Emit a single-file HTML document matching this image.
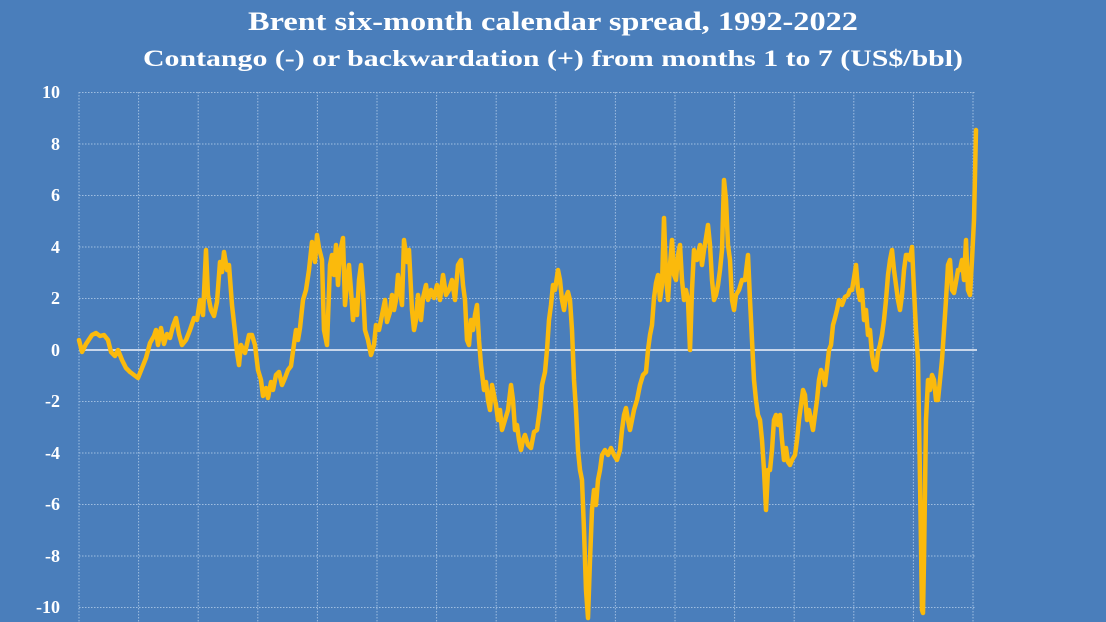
<!DOCTYPE html>
<html><head><meta charset="utf-8"><style>
html,body{margin:0;padding:0;background:#4a7ebb;}
svg{display:block;}
</style></head><body>
<svg width="1106" height="622" viewBox="0 0 1106 622" xmlns="http://www.w3.org/2000/svg">
<rect width="1106" height="622" fill="#4a7ebb"/>
<g font-family="'Liberation Serif',serif" font-weight="bold" fill="#ffffff" text-anchor="middle">
<text x="553" y="30" font-size="26" textLength="610" lengthAdjust="spacingAndGlyphs">Brent six-month calendar spread, 1992-2022</text>
<text x="553" y="66" font-size="23" textLength="820" lengthAdjust="spacingAndGlyphs">Contango (-) or backwardation (+) from months 1 to 7 (US$/bbl)</text>
</g>
<g stroke="#9fbde0" stroke-width="1" stroke-dasharray="1.5,1.5" fill="none">
<line x1="79" y1="92.5" x2="975" y2="92.5"/><line x1="79" y1="144" x2="975" y2="144"/>
<line x1="79" y1="195.5" x2="975" y2="195.5"/><line x1="79" y1="247" x2="975" y2="247"/>
<line x1="79" y1="298.5" x2="975" y2="298.5"/><line x1="79" y1="401.5" x2="975" y2="401.5"/>
<line x1="79" y1="453" x2="975" y2="453"/><line x1="79" y1="504.5" x2="975" y2="504.5"/>
<line x1="79" y1="556" x2="975" y2="556"/><line x1="79" y1="607.5" x2="975" y2="607.5"/>
<line x1="79" y1="92" x2="79" y2="622"/><line x1="138.6" y1="92" x2="138.6" y2="622"/>
<line x1="198.2" y1="92" x2="198.2" y2="622"/><line x1="257.8" y1="92" x2="257.8" y2="622"/>
<line x1="317.4" y1="92" x2="317.4" y2="622"/><line x1="377" y1="92" x2="377" y2="622"/>
<line x1="436.6" y1="92" x2="436.6" y2="622"/><line x1="496.2" y1="92" x2="496.2" y2="622"/>
<line x1="555.8" y1="92" x2="555.8" y2="622"/><line x1="615.4" y1="92" x2="615.4" y2="622"/>
<line x1="675" y1="92" x2="675" y2="622"/><line x1="734.6" y1="92" x2="734.6" y2="622"/>
<line x1="794.2" y1="92" x2="794.2" y2="622"/><line x1="853.8" y1="92" x2="853.8" y2="622"/>
<line x1="913.4" y1="92" x2="913.4" y2="622"/><line x1="973" y1="92" x2="973" y2="622"/>
</g>
<line x1="79" y1="350" x2="977" y2="350" stroke="#c8d6ea" stroke-width="2"/>
<g font-family="'Liberation Serif',serif" font-weight="bold" fill="#ffffff" font-size="18" text-anchor="end">
<text x="60" y="98">10</text><text x="60" y="150">8</text><text x="60" y="201">6</text>
<text x="60" y="253">4</text><text x="60" y="304">2</text><text x="60" y="356">0</text>
<text x="60" y="407">-2</text><text x="60" y="459">-4</text><text x="60" y="510">-6</text>
<text x="60" y="562">-8</text><text x="60" y="613">-10</text>
</g>
<polyline fill="none" stroke="#fbba0c" stroke-width="4.5" stroke-linejoin="round" stroke-linecap="round" points="
79,340 82,352 86,344 92,335 96,333 100,336 104,335 108,340 111,352 115,356 118,350 122,360 126,368 130,372 134,375 138,378 142,368 146,358 150,343 154,336 156,330 158,345 161,328 164,344 167,334 170,338 173,326 176,318 179,334 182,345 186,340 190,330 194,318 197,320 200,300 203,315 206,250 208,295 211,310 214,316 217,302 220,262 222,272 224,252 227,270 229,265 232,305 235,332 237,352 239,365 241,345 245,353 249,335 252,335 255,345 258,370 261,380 263,396 266,388 268,398 271,382 273,390 276,375 279,372 282,385 285,378 288,370 291,366 294,344 296,330 298,340 300,328 303,300 306,290 309,270 312,242 315,262 317,235 319,248 322,260 324,330 327,345 330,265 332,255 334,275 336,245 338,285 340,252 343,238 345,305 347,285 349,265 351,290 353,320 355,300 357,315 359,280 361,265 363,290 365,330 368,340 371,355 374,345 376,325 379,330 382,315 385,300 387,322 390,312 392,295 394,310 396,300 398,275 400,290 402,305 404,240 407,262 409,250 412,310 414,330 416,320 418,295 421,320 423,298 426,285 428,300 431,290 434,298 437,285 440,300 443,275 446,295 449,290 452,280 455,300 458,265 461,260 463,285 465,300 467,340 469,345 471,320 473,330 475,315 477,305 479,340 481,365 484,390 486,382 488,400 490,410 492,385 494,395 496,405 498,420 500,410 502,430 505,420 508,410 511,385 513,400 515,430 517,425 519,440 521,450 523,440 525,435 528,445 531,448 534,432 537,430 540,408 542,385 545,372 547,350 549,320 551,305 553,285 555,290 558,270 560,280 562,300 564,310 566,297 568,292 570,300 572,330 574,380 576,410 578,450 580,470 582,480 584,530 586,590 588,618 590,560 592,510 594,490 596,505 598,480 600,470 602,455 605,450 608,455 611,448 614,455 617,460 620,450 622,430 624,415 626,408 628,420 630,430 632,420 634,410 637,400 640,385 643,375 646,372 648,350 650,335 652,325 654,298 656,283 658,275 660,300 662,285 664,218 666,275 668,300 670,265 672,240 674,275 676,280 678,255 680,245 682,280 684,300 686,290 688,300 690,350 692,290 694,250 697,260 700,245 702,265 704,250 706,238 708,225 710,245 712,280 714,300 716,295 718,285 720,270 722,250 724,180 726,200 728,245 730,260 732,300 734,310 736,295 739,290 742,280 745,280 748,255 750,300 752,340 754,380 756,400 758,415 760,420 762,440 764,470 766,510 768,470 770,470 772,450 774,420 776,415 778,425 780,415 782,440 784,460 786,448 788,462 790,465 792,460 795,455 797,440 799,420 801,405 803,390 805,395 807,420 809,410 811,420 813,430 815,415 817,400 819,380 821,370 823,375 825,385 827,368 829,350 831,345 833,325 835,318 837,310 839,300 842,305 845,297 848,295 850,290 852,290 854,278 856,265 858,290 860,300 862,290 864,320 866,310 868,335 870,330 872,355 874,367 876,370 878,352 880,345 882,335 884,320 886,300 888,275 890,260 892,250 894,270 896,285 898,300 900,310 902,295 904,270 906,255 908,255 910,260 912,247 914,290 916,330 918,360 920,480 922,610 923,613 924,560 926,420 928,380 930,390 932,375 934,380 936,400 938,400 940,380 942,360 944,330 946,300 948,265 950,260 952,290 954,293 956,282 958,270 960,270 962,260 964,280 966,240 968,290 970,295 972,260 974,220 976,130"/>
</svg>
</body></html>
